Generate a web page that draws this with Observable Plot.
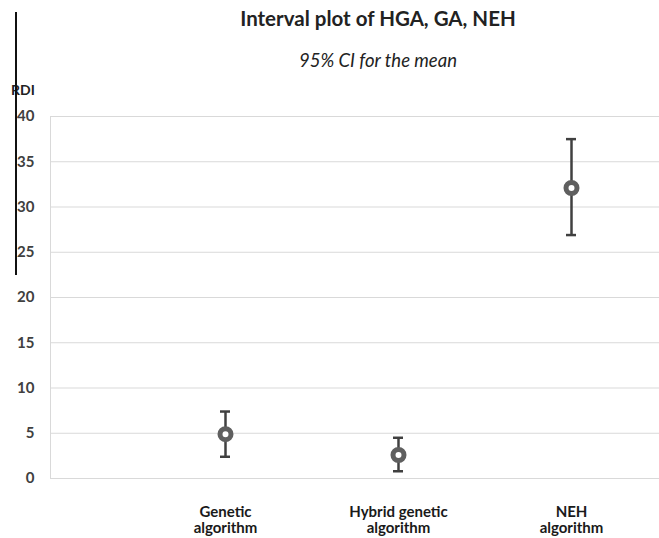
<!DOCTYPE html>
<html><head><meta charset="utf-8">
<script src="https://cdn.jsdelivr.net/npm/d3@7"></script>
<script src="https://cdn.jsdelivr.net/npm/@observablehq/plot@0.6"></script>
<style>
body{margin:0;background:#fff;font-family:Lato,"Open Sans",sans-serif;}
#wrap{position:relative;width:659px;height:538px;overflow:hidden;}
#title{position:absolute;left:0;width:756px;top:6px;text-align:center;font-weight:bold;font-size:20.5px;color:#222;}
#sub{position:absolute;left:0;width:756px;top:49px;text-align:center;font-style:italic;font-size:18.5px;color:#222;}
#rdi{position:absolute;left:11px;top:81px;font-weight:bold;font-size:14px;color:#222;}
#vline{position:absolute;left:15px;top:12px;width:1.5px;height:263px;background:#111;}
#chart{position:absolute;left:0;top:100px;}
</style></head>
<body>
<div id="wrap">
<div id="title">Interval plot of HGA, GA, NEH</div>
<div id="sub">95% CI for the mean</div>
<div id="rdi">RDI</div>
<div id="chart"></div>
<div id="vline"></div>
</div>
<script>
const categories = ["Genetic\nalgorithm", "Hybrid genetic\nalgorithm", "NEH\nalgorithm"];
const means = [4.9, 2.6, 32.1];
const lower = [2.4, 0.8, 26.9];
const upper = [7.4, 4.5, 37.5];
const yTicks = [0, 5, 10, 15, 20, 25, 30, 35, 40];

const data = categories.map((c, i) => ({cat: c, mean: means[i], lo: lower[i], hi: upper[i]}));

const chart = Plot.plot({
  width: 659,
  height: 438,
  marginLeft: 50,
  marginRight: 0,
  marginTop: 16,
  marginBottom: 60,
  style: {fontFamily: "Lato, 'Open Sans', sans-serif", background: "#fff"},
  x: {type: "point", domain: categories, range: [224, 571], padding: 0, label: null},
  y: {domain: [0, 40], label: null},
  marks: [
    Plot.ruleY(yTicks, {stroke: "#d9d9d9", strokeWidth: 1}),
    Plot.frame({anchor: "left", stroke: "#d9d9d9"}),
    Plot.axisY({ticks: yTicks, tickSize: 0, tickPadding: 16, fontSize: 15, fontWeight: "bold", fill: "#404040", label: null}),
    Plot.axisX({tickSize: 0, tickPadding: 26, fontSize: 15, fontWeight: "bold", fill: "#1a1a1a", label: null, lineHeight: 1.13}),
    Plot.ruleX(data, {x: "cat", y1: "lo", y2: "hi", stroke: "#404040", strokeWidth: 2.5}),
    Plot.ruleY(data, {x1: "cat", x2: "cat", y: "lo", insetLeft: -5, insetRight: -5, stroke: "#404040", strokeWidth: 2.5}),
    Plot.ruleY(data, {x1: "cat", x2: "cat", y: "hi", insetLeft: -5, insetRight: -5, stroke: "#404040", strokeWidth: 2.5}),
    Plot.dot(data, {x: "cat", y: "mean", r: 5.5, fill: "#fff", stroke: "#5f5f5f", strokeWidth: 5})
  ]
});
document.getElementById("chart").appendChild(chart);
</script>
</body></html>
